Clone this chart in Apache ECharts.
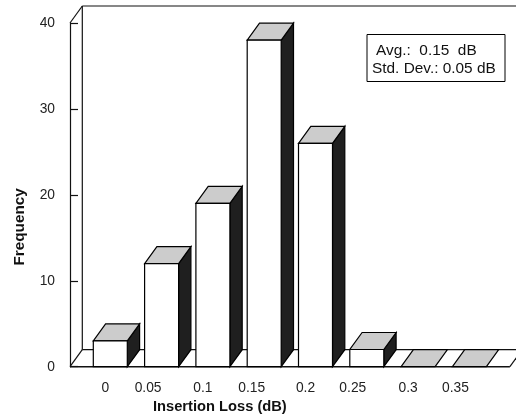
<!DOCTYPE html>
<html><head><meta charset="utf-8">
<style>html,body{margin:0;padding:0;background:#fff}#c{width:516px;height:416px}</style>
<script src="https://cdn.jsdelivr.net/npm/echarts@6/dist/echarts.min.js"></script>
</head><body><div id="c"></div>
<script>
const categories = ['0','0.05','0.1','0.15','0.2','0.25','0.3','0.35'];
const frequency = [3,12,19,38,26,2,0,0];
const labelNudge = [5,13.5,10,12.5,10,14,10,14];
const legendLines = ['Avg.:  0.15  dB','Std. Dev.: 0.05 dB'];
const FONT = '"Liberation Sans", Arial, sans-serif';
const DX = 12.3, DY = -17, WALL_X = 14.65, BAR_W = 34;
const rich = {};
labelNudge.forEach((n,i)=>{ rich['n'+i] = {padding:[0,2*n,0,0], fontSize:13.8, fontFamily:FONT, color:'#222'}; });

function renderWall(params, api){
  const c = params.coordSys;
  const l = c.x - WALL_X, r = c.x + c.width + WALL_X + 0.2, t = c.y, b = c.y + c.height;
  const seg = (x1,y1,x2,y2,lw)=>({type:'line',shape:{x1,y1,x2,y2},style:{stroke:'#111',lineWidth:lw||1.2}});
  return {type:'group',children:[
    seg(l+DX,t+DY,l+DX,b+DY),
    seg(l+DX,t+DY,530,t+DY),
    seg(l,t,l+DX,t+DY),
    seg(l,b,l+DX,b+DY),
    seg(l+DX,b+DY,530,b+DY),
    seg(l,b,r,b,1.4),
    seg(r,b,r+DX,b+DY)
  ]};
}
function renderBar(params, api){
  const p0 = api.coord([api.value(0),0]);
  const p1 = api.coord([api.value(0),api.value(1)]);
  const x0 = p0[0]-BAR_W/2, x1 = p0[0]+BAR_W/2, yb = p0[1], yt = p1[1];
  const st = (fill)=>({fill,stroke:'#000',lineWidth:1.2,lineJoin:'miter'});
  const kids = [];
  if (yb-yt > 0.1) {
    kids.push({type:'polygon',shape:{points:[[x1,yb],[x1+DX,yb+DY],[x1+DX,yt+DY],[x1,yt]]},style:st('#1f1f1f')});
  }
  kids.push({type:'polygon',shape:{points:[[x0,yt],[x1,yt],[x1+DX,yt+DY],[x0+DX,yt+DY]]},style:st('#cccccc')});
  if (yb-yt > 0.1) {
    kids.push({type:'rect',shape:{x:x0,y:yt,width:BAR_W,height:yb-yt},style:st('#ffffff')});
  }
  return {type:'group',children:kids};
}
const chart = echarts.init(document.getElementById('c'),null,{renderer:'canvas'});
chart.setOption({
  animation:false,
  backgroundColor:'#fff',
  grid:{left:84.65,top:23,width:410.4,height:343.7,containLabel:false,outerBoundsMode:'none'},
  xAxis:{type:'category',data:categories,boundaryGap:true,
    axisLine:{show:false},axisTick:{show:false},splitLine:{show:false},
    axisLabel:{margin:14,interval:0,hideOverlap:false,formatter:(v,i)=>'{n'+i+'|'+v+'}',rich},
    name:'Insertion Loss (dB)',nameLocation:'middle',nameGap:31,
    nameTextStyle:{fontFamily:FONT,fontWeight:'bold',fontSize:14.7,color:'#111',padding:[0,140,0,0]}},
  yAxis:{type:'value',min:0,max:40,interval:10,offset:WALL_X,
    axisLine:{show:true,lineStyle:{color:'#111',width:1.2}},
    axisTick:{show:true,inside:true,length:8,lineStyle:{color:'#111',width:1.2}},
    splitLine:{show:false},
    axisLabel:{margin:15,fontFamily:FONT,fontSize:13.8,color:'#222'},
    name:'Frequency',nameLocation:'middle',nameGap:43,
    nameTextStyle:{fontFamily:FONT,fontWeight:'bold',fontSize:15.3,color:'#111',padding:[0,64,0,0]}},
  series:[
    {type:'custom',coordinateSystem:'cartesian2d',clip:false,silent:true,z:1,renderItem:renderWall,data:[[0,0]],encode:{x:0,y:1}},
    {type:'custom',coordinateSystem:'cartesian2d',clip:false,silent:true,z:2,renderItem:renderBar,
      data:frequency.map((v,i)=>[i,v]),encode:{x:0,y:1}}
  ],
  graphic:[
    {type:'rect',z:10,shape:{x:367,y:34.5,width:138,height:47},style:{fill:'#fff',stroke:'#000',lineWidth:1}},
    {type:'text',z:11,x:376,y:43,style:{text:legendLines[0],font:'15.4px '+FONT,fill:'#111'}},
    {type:'text',z:11,x:372,y:61,style:{text:legendLines[1],font:'15.4px '+FONT,fill:'#111'}}
  ]
});
</script></body></html>
